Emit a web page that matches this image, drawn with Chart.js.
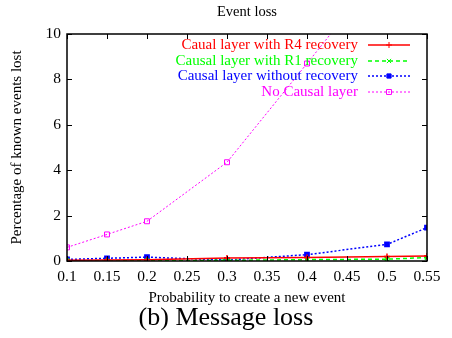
<!DOCTYPE html>
<html><head><meta charset="utf-8">
<script src="https://cdn.jsdelivr.net/npm/chart.js@4/dist/chart.umd.min.js"></script>
<style>
html,body{margin:0;padding:0;background:#fff;}
#wrap{position:relative;width:452px;height:338px;}
#cap{position:absolute;left:0;width:452px;top:302px;text-align:center;font-family:"Liberation Serif",serif;font-size:26px;color:#000;padding-right:0px;box-sizing:border-box;}
</style></head>
<body><div id="wrap"><canvas id="c" width="452" height="338"></canvas><div id="cap">(b) Message loss</div></div>
<script>
const probabilities = [0.1, 0.15, 0.2, 0.3, 0.4, 0.5, 0.55];
const r4Recovery = [0.03, 0.04, 0.06, 0.13, 0.15, 0.2, 0.22];
const r1Recovery = [0.02, 0.0, 0.02, 0.03, 0.06, 0.08, 0.15];
const noRecovery = [0.07, 0.12, 0.17, 0.04, 0.28, 0.73, 1.47];
const noCausal = [0.6, 1.17, 1.75, 4.35, 8.7, 13.1, null];
const xTicks = [0.1, 0.15, 0.2, 0.25, 0.3, 0.35, 0.4, 0.45, 0.5, 0.55];
const yTicks = [0, 2, 4, 6, 8, 10];
const seriesNames = ["Caual layer with R4 recovery", "Causal layer with R1 recovery", "Causal layer without recovery", "No Causal layer"];
const chartTitle = "Event loss";

const pts = arr => probabilities.map((x, i) => ({x: x, y: arr[i]}));
const serif = "'Liberation Serif', 'Times New Roman', serif";

const boxTicks = {
  id: 'boxTicks',
  afterDatasetsDraw(chart) {
    const {ctx, chartArea: a, scales: {x, y}} = chart;
    ctx.save();
    ctx.strokeStyle = '#000';
    ctx.lineWidth = 1;
    ctx.beginPath();
    xTicks.forEach(v => {
      const px = Math.round(x.getPixelForValue(v)) + 0.5;
      ctx.moveTo(px, a.bottom); ctx.lineTo(px, a.bottom - 5);
      ctx.moveTo(px, a.top); ctx.lineTo(px, a.top + 5);
    });
    yTicks.forEach(v => {
      const py = Math.round(y.getPixelForValue(v)) + 0.5;
      ctx.moveTo(a.left, py); ctx.lineTo(a.left + 5, py);
      ctx.moveTo(a.right, py); ctx.lineTo(a.right - 5, py);
    });
    ctx.stroke();
    ctx.lineWidth = 1.5;
    ctx.strokeRect(a.left, a.top, a.right - a.left, a.bottom - a.top);
    // title centered over plot area
    ctx.fillStyle = '#000';
    ctx.font = "14.5px " + serif;
    ctx.textAlign = 'center';
    ctx.textBaseline = 'middle';
    ctx.fillText(chartTitle, (a.left + a.right) / 2, 12);
    // legend
    const rows = [45, 61, 76, 92];
    ctx.font = "15px " + serif;
    ctx.textAlign = 'right';
    ctx.textBaseline = 'middle';
    chart.data.datasets.forEach((ds, i) => {
      const yy = rows[i];
      ctx.fillStyle = ds.borderColor;
      ctx.fillText(ds.label, 358, yy);
      ctx.save();
      ctx.strokeStyle = ds.borderColor;
      ctx.lineWidth = ds.borderWidth;
      ctx.setLineDash(ds.borderDash || []);
      ctx.beginPath(); ctx.moveTo(368, yy); ctx.lineTo(410, yy); ctx.stroke();
      ctx.restore();
      ctx.save();
      ctx.fillStyle = ds.pointBackgroundColor;
      ctx.strokeStyle = ds.borderColor;
      ctx.lineWidth = 1;
      ctx.setLineDash([]);
      Chart.helpers.drawPoint(ctx, {pointStyle: ds.pointStyle, radius: ds.pointRadius, borderWidth: 1, rotation: 0}, 389, yy);
      ctx.restore();
    });
    ctx.restore();
  }
};

new Chart(document.getElementById('c'), {
  type: 'line',
  data: {
    datasets: [
      {label: seriesNames[0], data: pts(r4Recovery), borderColor: '#ff0000', pointBackgroundColor: '#ff0000', pointBorderColor: '#ff0000', borderWidth: 1.5, pointStyle: 'cross', pointRadius: 3},
      {label: seriesNames[1], data: pts(r1Recovery), borderColor: '#00ff00', pointBackgroundColor: '#00ff00', pointBorderColor: '#00ff00', borderWidth: 1.5, borderDash: [4, 3], pointStyle: 'crossRot', pointRadius: 3},
      {label: seriesNames[2], data: pts(noRecovery), borderColor: '#0000ff', pointBackgroundColor: '#0000ff', pointBorderColor: '#0000ff', borderWidth: 1.5, borderDash: [2, 2], pointStyle: 'rect', pointRadius: 3},
      {label: seriesNames[3], data: pts(noCausal), borderColor: '#ff00ff', pointBackgroundColor: 'rgba(0,0,0,0)', pointBorderColor: '#ff00ff', borderWidth: 1, borderDash: [2, 2], pointStyle: 'rect', pointRadius: 3.5}
    ]
  },
  options: {
    responsive: false,
    animation: false,
    elements: {line: {tension: 0, cubicInterpolationMode: 'default'}},
    layout: {padding: {left: 0, right: 25, top: 34, bottom: 29}},
    plugins: {
      legend: {display: false},
      tooltip: {enabled: false},
      title: {display: false}
    },
    scales: {
      x: {
        type: 'linear', min: 0.1, max: 0.55,
        afterFit: s => { s.height = 48; },
        afterBuildTicks: s => { s.ticks = xTicks.map(v => ({value: v})); },
        grid: {display: false, drawTicks: false},
        border: {display: false},
        ticks: {color: '#000', font: {family: serif, size: 15.5}, padding: 7, maxRotation: 0, autoSkip: false, callback: v => String(v)},
        title: {display: true, text: 'Probability to create a new event', color: '#000', font: {family: serif, size: 15}, padding: {top: 0, bottom: 2}}
      },
      y: {
        min: 0, max: 10,
        afterFit: s => { s.width = 67; },
        afterBuildTicks: s => { s.ticks = yTicks.map(v => ({value: v})); },
        grid: {display: false, drawTicks: false},
        border: {display: false},
        ticks: {color: '#000', font: {family: serif, size: 15.5}, padding: 6},
        title: {display: true, text: 'Percentage of known events lost', color: '#000', font: {family: serif, size: 15}, padding: {top: 8, bottom: 0}}
      }
    }
  },
  plugins: [boxTicks]
});
</script>
</body></html>
